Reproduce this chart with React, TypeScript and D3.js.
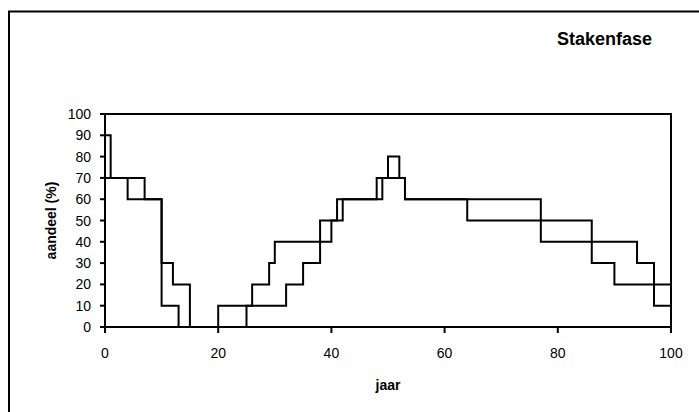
import React from "react";
import * as d3 from "d3";

const xTicks = [0, 20, 40, 60, 80, 100];
const yTicks = [0, 10, 20, 30, 40, 50, 60, 70, 80, 90, 100];

const seriesAYears = [0, 1, 4, 10, 13, 20, 26, 29, 30, 38, 41, 48, 53, 64, 86, 90, 100];
const seriesAValues = [90, 70, 60, 10, 0, 10, 20, 30, 40, 50, 60, 70, 60, 50, 30, 20, 20];

const seriesBYears = [0, 7, 10, 12, 15, 25, 32, 35, 38, 40, 42, 49, 50, 52, 53, 77, 94, 97, 100];
const seriesBValues = [70, 60, 30, 20, 0, 10, 20, 30, 40, 50, 60, 70, 80, 70, 60, 40, 30, 10, 10];

const title = "Stakenfase";
const xLabel = "jaar";
const yLabel = "aandeel (%)";

export default function App() {
  const W = 699;
  const H = 412;
  const left = 105;
  const right = 671;
  const top = 114;
  const bottom = 327;
  const x = d3.scaleLinear().domain([0, 100]).range([left, right]);
  const y = d3.scaleLinear().domain([0, 100]).range([bottom, top]);
  const line = d3
    .line<[number, number]>()
    .x((d) => x(d[0]))
    .y((d) => y(d[1]))
    .curve(d3.curveStepAfter);
  const a = seriesAYears.map((t, i) => [t, seriesAValues[i]] as [number, number]);
  const b = seriesBYears.map((t, i) => [t, seriesBValues[i]] as [number, number]);
  const font = "'Liberation Sans', Arial, sans-serif";

  return (
    <svg
      width={W}
      height={H}
      style={{ position: "absolute", left: 0, top: 0, background: "#fff" }}
      fontFamily={font}
    >
      <rect x={9} y={11.5} width={W + 10} height={H + 10} fill="#fff" stroke="#000" strokeWidth={2} />
      <text x={557} y={45} fontSize={18} fontWeight="bold" fill="#000">
        {title}
      </text>
      <rect x={left} y={top} width={right - left} height={bottom - top} fill="none" stroke="#000" strokeWidth={2} />
      {yTicks.map((t) => (
        <g key={"y" + t}>
          <line x1={left - 5} x2={left} y1={y(t)} y2={y(t)} stroke="#000" strokeWidth={2} />
          <text x={91} y={y(t) + 5} fontSize={14} textAnchor="end" fill="#000">
            {t}
          </text>
        </g>
      ))}
      {xTicks.map((t) => (
        <g key={"x" + t}>
          <line x1={x(t)} x2={x(t)} y1={bottom} y2={bottom + 6} stroke="#000" strokeWidth={2} />
          <text x={x(t)} y={358} fontSize={14} textAnchor="middle" fill="#000">
            {t}
          </text>
        </g>
      ))}
      <path d={line(a) || ""} fill="none" stroke="#000" strokeWidth={2} />
      <path d={line(b) || ""} fill="none" stroke="#000" strokeWidth={2} />
      <text x={(left + right) / 2} y={390} fontSize={14} fontWeight="bold" textAnchor="middle" fill="#000">
        {xLabel}
      </text>
      <text
        transform={`translate(56, ${(top + bottom) / 2}) rotate(-90)`}
        fontSize={14}
        fontWeight="bold"
        textAnchor="middle"
        fill="#000"
      >
        {yLabel}
      </text>
    </svg>
  );
}
